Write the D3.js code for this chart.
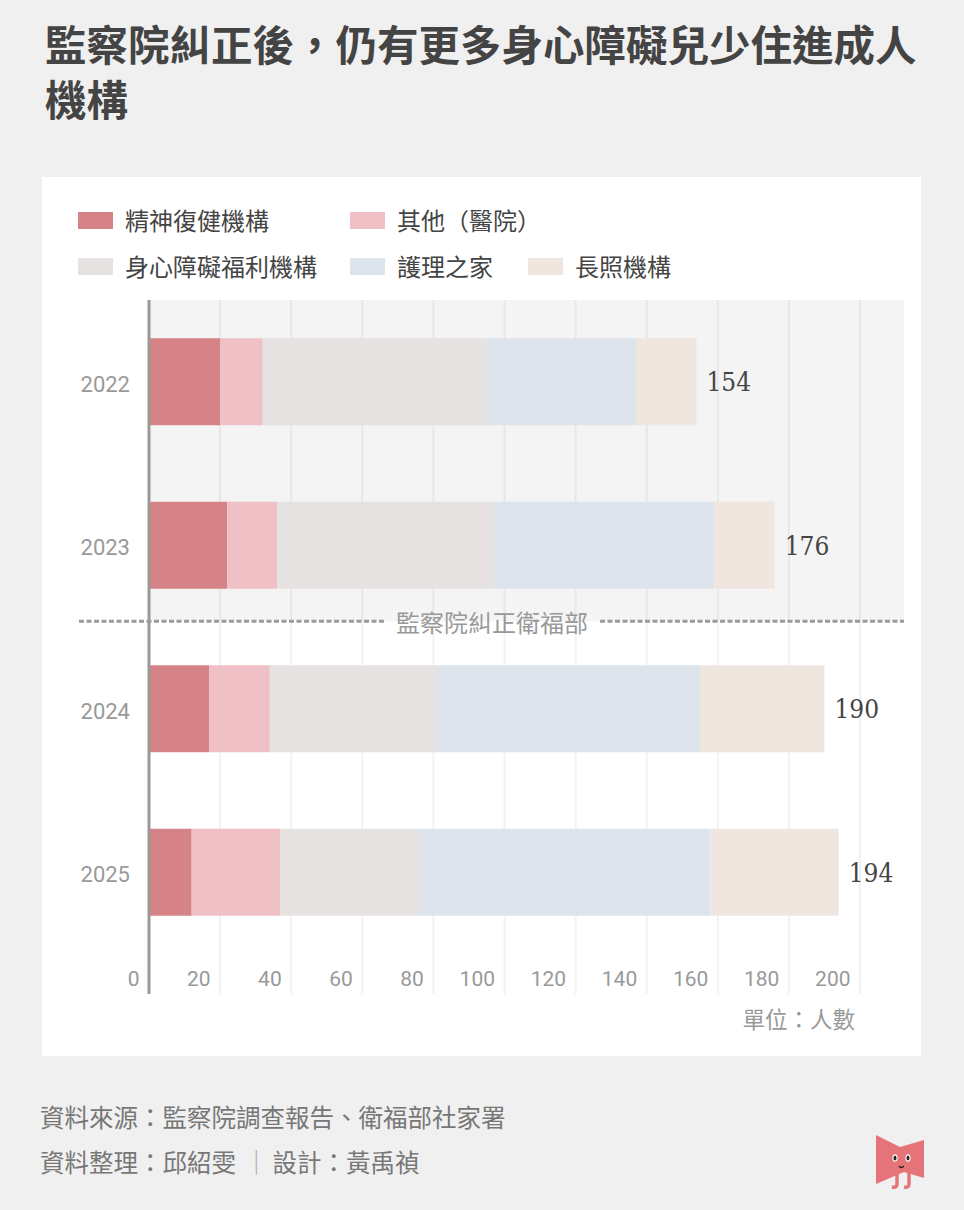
<!DOCTYPE html>
<html><head><meta charset="utf-8">
<script src="https://cdn.jsdelivr.net/npm/d3@7"></script>
<style>
html,body{margin:0;padding:0;background:#f0f0f0;}
svg{display:block;}
</style></head>
<body>
<script>
// ---- data ----
const years = ["2022","2023","2024","2025"];
const seriesNames = ["精神復健機構","其他（醫院）","身心障礙福利機構","護理之家","長照機構"];
const psychRehab = [20, 22, 17, 12];
const otherHospital = [12, 14, 17, 25];
const disabilityWelfare = [63, 61, 47, 39];
const nursingHome = [42, 62, 74, 82];
const longTermCare = [17, 17, 35, 36];
const totals = [154, 176, 190, 194];
const xTicks = [0,20,40,60,80,100,120,140,160,180,200];
const colors = ["#d58387","#efc0c6","#e6e2e1","#dde4eb","#efe6e0"];

const titleLines = ["監察院糾正後，仍有更多身心障礙兒少住進成人","機構"];
const dividerLabel = "監察院糾正衛福部";
const unitLabel = "單位：人數";
const sourceLine = "資料來源：監察院調查報告、衛福部社家署";
const creditLine1 = "資料整理：邱紹雯";
const creditLine2 = "設計：黃禹禎";

const seriesValues = [psychRehab, otherHospital, disabilityWelfare, nursingHome, longTermCare];
const rows = years.map((y,i)=>{
  const r = {year:y};
  seriesNames.forEach((s,j)=> r[s] = seriesValues[j][i]);
  return r;
});

const W = 964, H = 1210;
const CJK = "'Noto Sans CJK TC','Noto Sans CJK SC',sans-serif";
const svg = d3.select("body").append("svg").attr("width",W).attr("height",H);
svg.append("rect").attr("width",W).attr("height",H).attr("fill","#f0f0f0");

// title
svg.append("g").selectAll("text").data(titleLines).join("text")
  .attr("x",45).attr("y",(d,i)=>61+i*55)
  .attr("font-family",CJK).attr("font-weight",700).attr("font-size",41.5)
  .attr("fill","#444").text(d=>d);

// card
svg.append("rect").attr("x",42).attr("y",177).attr("width",879).attr("height",879).attr("fill","#fff");

// legend
const legendPos = [[78,212],[350,212],[78,258],[350,258],[528,258]];
const lg = svg.append("g").selectAll("g").data(seriesNames).join("g")
  .attr("transform",(d,i)=>`translate(${legendPos[i][0]},${legendPos[i][1]})`);
lg.append("rect").attr("width",35).attr("height",17).attr("fill",(d,i)=>colors[i]);
lg.append("text").attr("x",47).attr("y",18).attr("font-family",CJK).attr("font-size",24)
  .attr("fill","#444").text(d=>d);

// scales
const x = d3.scaleLinear().domain([0,200]).range([149,860]);
const y = d3.scaleBand().domain(years).range([300,954]).paddingInner(0.468).paddingOuter(0.234);

// shaded pre-correction area
const sepY = y("2024") - 44;
svg.append("rect").attr("x",x(0)).attr("y",300).attr("width",904-x(0)).attr("height",sepY-300).attr("fill","#f4f4f4");

// gridlines
svg.append("g").selectAll("line").data(xTicks.slice(1)).join("line")
  .attr("x1",d=>x(d)).attr("x2",d=>x(d)).attr("y1",300).attr("y2",994)
  .attr("stroke","rgba(0,0,0,0.05)").attr("stroke-width",2);

// stacked bars
const stack = d3.stack().keys(seriesNames)(rows);
svg.append("g").selectAll("g").data(stack).join("g").attr("fill",(d,i)=>colors[i])
  .selectAll("rect").data(d=>d).join("rect")
  .attr("x",d=>x(d[0])).attr("width",d=>x(d[1])-x(d[0]))
  .attr("y",d=>y(d.data.year)).attr("height",y.bandwidth());

// total labels
svg.append("g").selectAll("text").data(years).join("text")
  .attr("x",(d,i)=>x(totals[i])+10).attr("y",d=>y(d)+y.bandwidth()/2)
  .attr("dy","0.36em")
  .attr("font-family","'DejaVu Serif Condensed','DejaVu Serif',serif").attr("font-stretch","condensed")
  .attr("font-size",26).attr("fill","#444").text((d,i)=>totals[i]);

// y axis
const yAxis = svg.append("g").attr("transform",`translate(${x(0)},0)`)
  .call(d3.axisLeft(y).tickSize(0).tickPadding(19));
yAxis.select(".domain").remove();
yAxis.selectAll("text").attr("font-family","Roboto, sans-serif").attr("font-size",22).attr("fill","#999").attr("dy","0.45em");
svg.append("line").attr("x1",x(0)).attr("x2",x(0)).attr("y1",300).attr("y2",994)
  .attr("stroke","#999").attr("stroke-width",3);

// x axis labels
const xAxis = svg.append("g").attr("transform","translate(-10,979)")
  .call(d3.axisBottom(x).tickValues(xTicks).tickSize(0).tickPadding(0));
xAxis.select(".domain").remove();
xAxis.selectAll("text").attr("font-family","Roboto, sans-serif").attr("font-size",21)
  .attr("fill","#999").attr("text-anchor","end").attr("dy","0.35em");

// unit
svg.append("text").attr("x",855).attr("y",1028).attr("text-anchor","end")
  .attr("font-family",CJK).attr("font-size",22.5).attr("fill","#999").text(unitLabel);

// divider
const divLabelX = 492;
const dl = svg.append("text").attr("x",divLabelX).attr("y",sepY+2).attr("dy","0.35em")
  .attr("text-anchor","middle").attr("font-family",CJK).attr("font-size",24).attr("fill","#999").text(dividerLabel);
const bb = dl.node().getBBox();
[[79,bb.x-12],[bb.x+bb.width+12,904]].forEach(s=>{
  svg.append("line").attr("x1",s[0]).attr("x2",s[1]).attr("y1",sepY).attr("y2",sepY)
    .attr("stroke","#9a9a9a").attr("stroke-width",3).attr("stroke-dasharray","5,2.5");
});

// footer
svg.append("text").attr("x",40).attr("y",1127).attr("font-family",CJK).attr("font-size",24.5)
  .attr("fill","#777").text(sourceLine);
const f2 = svg.append("text").attr("x",40).attr("y",1172).attr("font-family",CJK).attr("font-size",24.5).attr("fill","#777");
f2.append("tspan").text(creditLine1);
f2.append("tspan").attr("dx",8).attr("fill","#aaa").text("｜");
f2.append("tspan").attr("dx",4).text(creditLine2);

// logo
const logo = svg.append("g");
logo.append("path").attr("d","M876,1135 L900,1147 L924,1140 L924,1178 L904,1172 L876,1184 Z").attr("fill","#e57377");
logo.append("path").attr("d","M897,1172 L897,1184 Q897,1188 892,1187").attr("fill","none").attr("stroke","#e57377").attr("stroke-width",3.5);
logo.append("path").attr("d","M909,1170 L909,1184 Q909,1188 904,1187").attr("fill","none").attr("stroke","#e57377").attr("stroke-width",3.5);
[[895,1158],[908,1158]].forEach(p=>{
  logo.append("ellipse").attr("cx",p[0]).attr("cy",p[1]).attr("rx",2.6).attr("ry",3.8).attr("fill","#fff");
  logo.append("ellipse").attr("cx",p[0]).attr("cy",p[1]).attr("rx",1.5).attr("ry",2.6).attr("fill","#222");
});
logo.append("path").attr("d","M899,1166 Q901.5,1169 904,1166").attr("fill","none").attr("stroke","#222").attr("stroke-width",1.3);
</script>
</body></html>
